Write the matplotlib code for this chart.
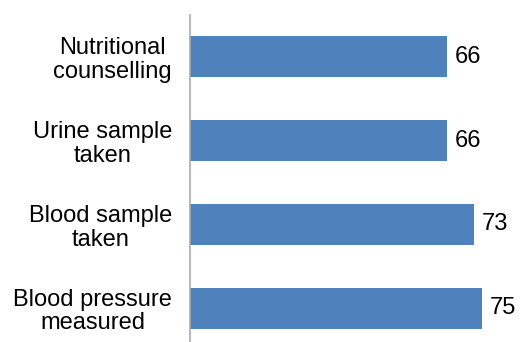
import matplotlib.pyplot as plt

plt.rcParams['font.family'] = ['Liberation Sans', 'DejaVu Sans']

categories = ['Nutritional\ncounselling', 'Urine sample\ntaken', 'Blood sample\ntaken', 'Blood pressure\nmeasured']
values = [66, 66, 73, 75]

fig = plt.figure(figsize=(5.2, 3.42), dpi=100)
ax = fig.add_axes([190 / 520, -8 / 342, 330 / 520, 335 / 342])

ypos = range(len(categories))
ax.barh(ypos, values, height=0.49, color='#4F81BD')
for y, v in zip(ypos, values):
    ax.text(v + 2.0, y, str(v), va='center', ha='left', fontsize=17)

ax.set_xlim(0, 84.8)
ax.set_ylim(3.5, -0.5)
ax.set_yticks(list(ypos))
ax.set_yticklabels(categories, fontsize=17, linespacing=1.1, multialignment='center')
ax.tick_params(axis='y', length=0, pad=13)
ax.set_xticks([])
for s in ['top', 'right', 'bottom']:
    ax.spines[s].set_visible(False)
ax.spines['left'].set_color('#ababab')
ax.spines['left'].set_linewidth(1.2)

fig.savefig('out.png', dpi=100)
